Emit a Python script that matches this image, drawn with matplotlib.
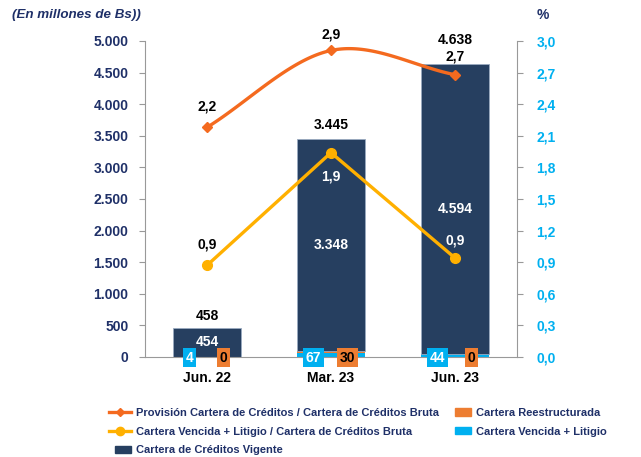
import numpy as np
import matplotlib
matplotlib.use("Agg")
import matplotlib.pyplot as plt
from matplotlib.lines import Line2D
from matplotlib.patches import Patch, Rectangle
from matplotlib.legend_handler import HandlerPatch

plt.rcParams['font.family'] = ['Liberation Sans', 'DejaVu Sans']

categories = ["Jun. 22", "Mar. 23", "Jun. 23"]
vencida = [4, 67, 44]
reestructurada = [0, 30, 0]
vigente = [454, 3348, 4594]
totales = [458, 3445, 4638]
provision_pct = [2.18, 2.91, 2.68]
vencida_pct = [0.87, 1.94, 0.94]

NAVY = "#263F60"
ORANGE = "#ED7D31"
CYAN = "#00B0F0"
LINE_OR = "#F46A1F"
LINE_YE = "#FFB000"
TXT_NAVY = "#1F3068"
FS = 10

fig = plt.figure(figsize=(6.41, 4.57), dpi=100)
ax = fig.add_axes([145/641, 1-357/457, (517-145)/641, (357-41)/457])
ax2 = ax.twinx()

x = np.arange(len(categories))
w = 0.55
ax.bar(x, vencida, w, color=CYAN, zorder=2)
ax.bar(x, reestructurada, w, bottom=vencida, color=ORANGE, zorder=2)
bot2 = [a + b for a, b in zip(vencida, reestructurada)]
ax.bar(x, vigente, w, bottom=bot2, color=NAVY, edgecolor='#9AAAC0', linewidth=0.6, zorder=2)

ax.set_xlim(-0.5, 2.5)
ax.set_ylim(0, 5000)
ax.set_yticks(np.arange(0, 5001, 500))
ax.set_yticklabels([f"{int(v):,}".replace(",", ".") for v in np.arange(0, 5001, 500)],
                   fontsize=FS, fontweight='bold', color=TXT_NAVY)
ax.set_xticks(x)
ax.set_xticklabels(categories, fontsize=FS, fontweight='bold', color='black')
ax.tick_params(axis='x', length=0, pad=10)
ax.tick_params(axis='y', length=4, color='#999999', pad=8)
for s in ['top', 'right']:
    ax.spines[s].set_visible(False)
ax.spines['left'].set_color('#999999')
ax.spines['bottom'].set_color('#999999')

ax2.set_ylim(0, 3.0)
pt = np.arange(0, 3.01, 0.3)
ax2.set_yticks(pt)
ax2.set_yticklabels([f"{v:.1f}".replace(".", ",") for v in pt],
                    fontsize=FS, fontweight='bold', color=CYAN)
ax2.tick_params(axis='y', length=4, color='#999999', pad=10)
for s in ['top', 'left', 'bottom']:
    ax2.spines[s].set_visible(False)
ax2.spines['right'].set_color('#999999')

def smooth(xs, ys, n=60):
    xs = np.asarray(xs, float); ys = np.asarray(ys, float)
    P = np.column_stack([xs, ys])
    P = np.vstack([P[0] - (P[1] - P[0]), P, P[-1] + (P[-1] - P[-2])])
    out = []
    for i in range(1, len(P) - 2):
        p0, p1, p2, p3 = P[i-1], P[i], P[i+1], P[i+2]
        t = np.linspace(0, 1, n)[:, None]
        pts = 0.5 * ((2*p1) + (-p0 + p2)*t + (2*p0 - 5*p1 + 4*p2 - p3)*t**2 + (-p0 + 3*p1 - 3*p2 + p3)*t**3)
        out.append(pts)
    out = np.vstack(out)
    return out[:, 0], out[:, 1]

sx, sy = smooth(x, provision_pct)
ax2.plot(sx, sy, color=LINE_OR, lw=2.4, zorder=3)
ax2.plot(x, provision_pct, ls='none', marker='D', ms=5, color=LINE_OR, zorder=4)
ax2.plot(x, vencida_pct, color=LINE_YE, lw=2.4, marker='o', ms=7, zorder=3)

def fmt(v):
    return f"{v:.1f}".replace(".", ",")

lab = dict(fontsize=FS, fontweight='bold', ha='center', va='center')
prov_off = [0.2, 0.15, 0.17]
for i, v in enumerate(provision_pct):
    ax2.text(x[i], v + prov_off[i], fmt(v), color='black', zorder=6, **lab)
ven_off = [0.2, -0.23, 0.17]
ven_col = ['black', 'white', 'white']
for i, v in enumerate(vencida_pct):
    ax2.text(x[i], v + ven_off[i], fmt(v), color=ven_col[i], zorder=6, **lab)

tot_off = [190, 230, 370]
for i, v in enumerate(totales):
    ax2.text(x[i], (v + tot_off[i]) * 3.0 / 5000, f"{v:,}".replace(",", "."), color='black', zorder=6, **lab)
for i, v in enumerate(vigente):
    c = bot2[i] + v / 2
    if i == 0:
        c = bot2[i] + v / 2 + 10
    ax2.text(x[i], c * 3.0 / 5000, f"{v:,}".replace(",", "."), color='white', zorder=6, **lab)
for i in range(3):
    ax2.text(x[i] - 0.14, -0.005, str(vencida[i]), color='white', zorder=7,
             bbox=dict(boxstyle='square,pad=0.18', fc=CYAN, ec='none'), **lab)
    ax2.text(x[i] + 0.135, -0.005, str(reestructurada[i]), color='black', zorder=7,
             bbox=dict(boxstyle='square,pad=0.18', fc=ORANGE, ec='none'), **lab)

fig.text(12/641, 1-15/457, "(En millones de Bs))", fontsize=9.6, fontweight='bold',
         style='italic', color=TXT_NAVY, ha='left', va='center')
fig.text(543/641, 1-15/457, "%", fontsize=FS, fontweight='bold', color=TXT_NAVY,
         ha='center', va='center')

def square_patch(legend, orig_handle, xdescent, ydescent, width, height, fontsize):
    pw = 0.72 * width
    ph = 0.95 * height
    return Rectangle((-xdescent + width - pw, -ydescent + (height - ph) / 2), pw, ph)

handles = [
    Line2D([], [], color=LINE_OR, lw=2.4, marker='D', ms=4),
    Line2D([], [], color=LINE_YE, lw=2.4, marker='o', ms=6),
    Patch(color=NAVY),
    Patch(color=ORANGE),
    Patch(color=CYAN),
]
labels = [
    "Provisión Cartera de Créditos / Cartera de Créditos Bruta",
    "Cartera Vencida + Litigio / Cartera de Créditos Bruta",
    "Cartera de Créditos Vigente",
    "Cartera Reestructurada",
    "Cartera Vencida + Litigio",
]
leg = fig.legend(handles, labels, ncol=2, loc='upper left',
                 bbox_to_anchor=(109/641, 1-408/457), frameon=False,
                 prop=dict(size=8, weight='bold'), handlelength=2.0,
                 handletextpad=0.45, columnspacing=0.9, labelspacing=0.78,
                 borderaxespad=0, borderpad=0,
                 handler_map={Patch: HandlerPatch(patch_func=square_patch)})
for t in leg.get_texts():
    t.set_color(TXT_NAVY)

fig.savefig("out.png", dpi=100)
